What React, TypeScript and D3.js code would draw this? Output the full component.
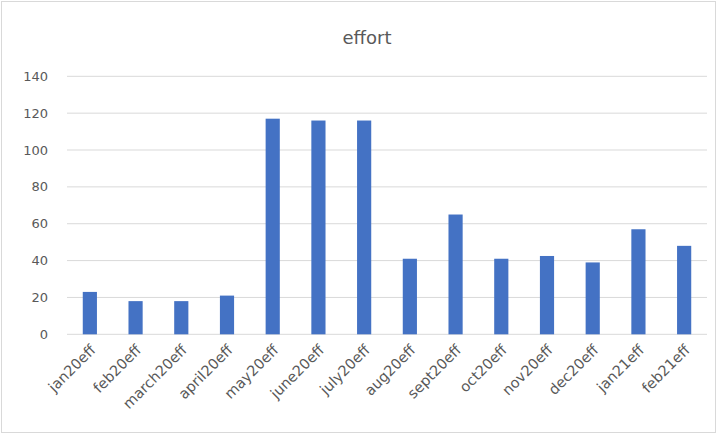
import React, { useRef, useEffect } from "react";
import * as d3 from "d3";

// Data
const MONTHS = [
  "jan20eff", "feb20eff", "march20eff", "april20eff", "may20eff", "june20eff", "july20eff",
  "aug20eff", "sept20eff", "oct20eff", "nov20eff", "dec20eff", "jan21eff", "feb21eff",
];
const EFFORT = [23, 18, 18, 21, 117, 116, 116, 41, 65, 41, 42.5, 39, 57, 48];
const Y_TICKS = [0, 20, 40, 60, 80, 100, 120, 140];

// Geometry
const WIDTH = 717;
const HEIGHT = 435;
const PLOT_LEFT = 67;
const PLOT_RIGHT = 707;
const PLOT_TOP = 76.3;
const PLOT_BOTTOM = 334.3;

const FONT = "'DejaVu Sans', sans-serif";
const TEXT_COLOR = "#595959";

export default function App() {
  const svgRef = useRef<SVGSVGElement | null>(null);

  useEffect(() => {
    drawChart();
  }, []);

  function drawChart() {
    const svg = d3.select(svgRef.current);
    svg.selectAll("*").remove();

    const x = d3.scaleBand<string>()
      .domain(MONTHS)
      .range([PLOT_LEFT, PLOT_RIGHT])
      .paddingInner(0.69)
      .paddingOuter(0.345);
    const y = d3.scaleLinear().domain([0, 140]).range([PLOT_BOTTOM, PLOT_TOP]);

    // outer frame
    svg.append("rect")
      .attr("x", 1.5).attr("y", 1.5)
      .attr("width", WIDTH - 3).attr("height", HEIGHT - 4)
      .attr("fill", "#fff")
      .attr("stroke", "#d9d9d9");

    svg.append("text")
      .attr("x", (PLOT_LEFT + PLOT_RIGHT) / 2 - 20)
      .attr("y", 44)
      .attr("text-anchor", "middle")
      .style("font-family", FONT)
      .style("font-size", "18px")
      .style("fill", TEXT_COLOR)
      .text("effort");

    // gridlines + y labels
    Y_TICKS.forEach((t) => {
      svg.append("line")
        .attr("x1", PLOT_LEFT).attr("x2", PLOT_RIGHT)
        .attr("y1", y(t)).attr("y2", y(t))
        .attr("stroke", "#d9d9d9")
        .attr("stroke-width", 1);
      svg.append("text")
        .attr("x", 48)
        .attr("y", y(t))
        .attr("dy", "0.35em")
        .attr("text-anchor", "end")
        .style("font-family", FONT)
        .style("font-size", "13px")
        .style("fill", TEXT_COLOR)
        .text(String(t));
    });

    svg.append("g")
      .selectAll("rect")
      .data(EFFORT)
      .join("rect")
      .attr("x", (_d, i) => x(MONTHS[i]) as number)
      .attr("y", (d) => y(d))
      .attr("width", x.bandwidth())
      .attr("height", (d) => PLOT_BOTTOM - y(d))
      .attr("fill", "#4472C4");

    MONTHS.forEach((m) => {
      const cx = (x(m) as number) + x.bandwidth() / 2;
      svg.append("text")
        .attr("transform", `translate(${cx + 3},${PLOT_BOTTOM + 13}) rotate(-45)`)
        .attr("text-anchor", "end")
        .attr("dy", "0.35em")
        .style("font-family", FONT)
        .style("font-size", "14.5px")
        .style("fill", TEXT_COLOR)
        .text(m);
    });
  }

  return (
    <svg
      ref={svgRef}
      width={WIDTH}
      height={HEIGHT}
      style={{ position: "absolute", left: 0, top: 0 }}
    ></svg>
  );
}
